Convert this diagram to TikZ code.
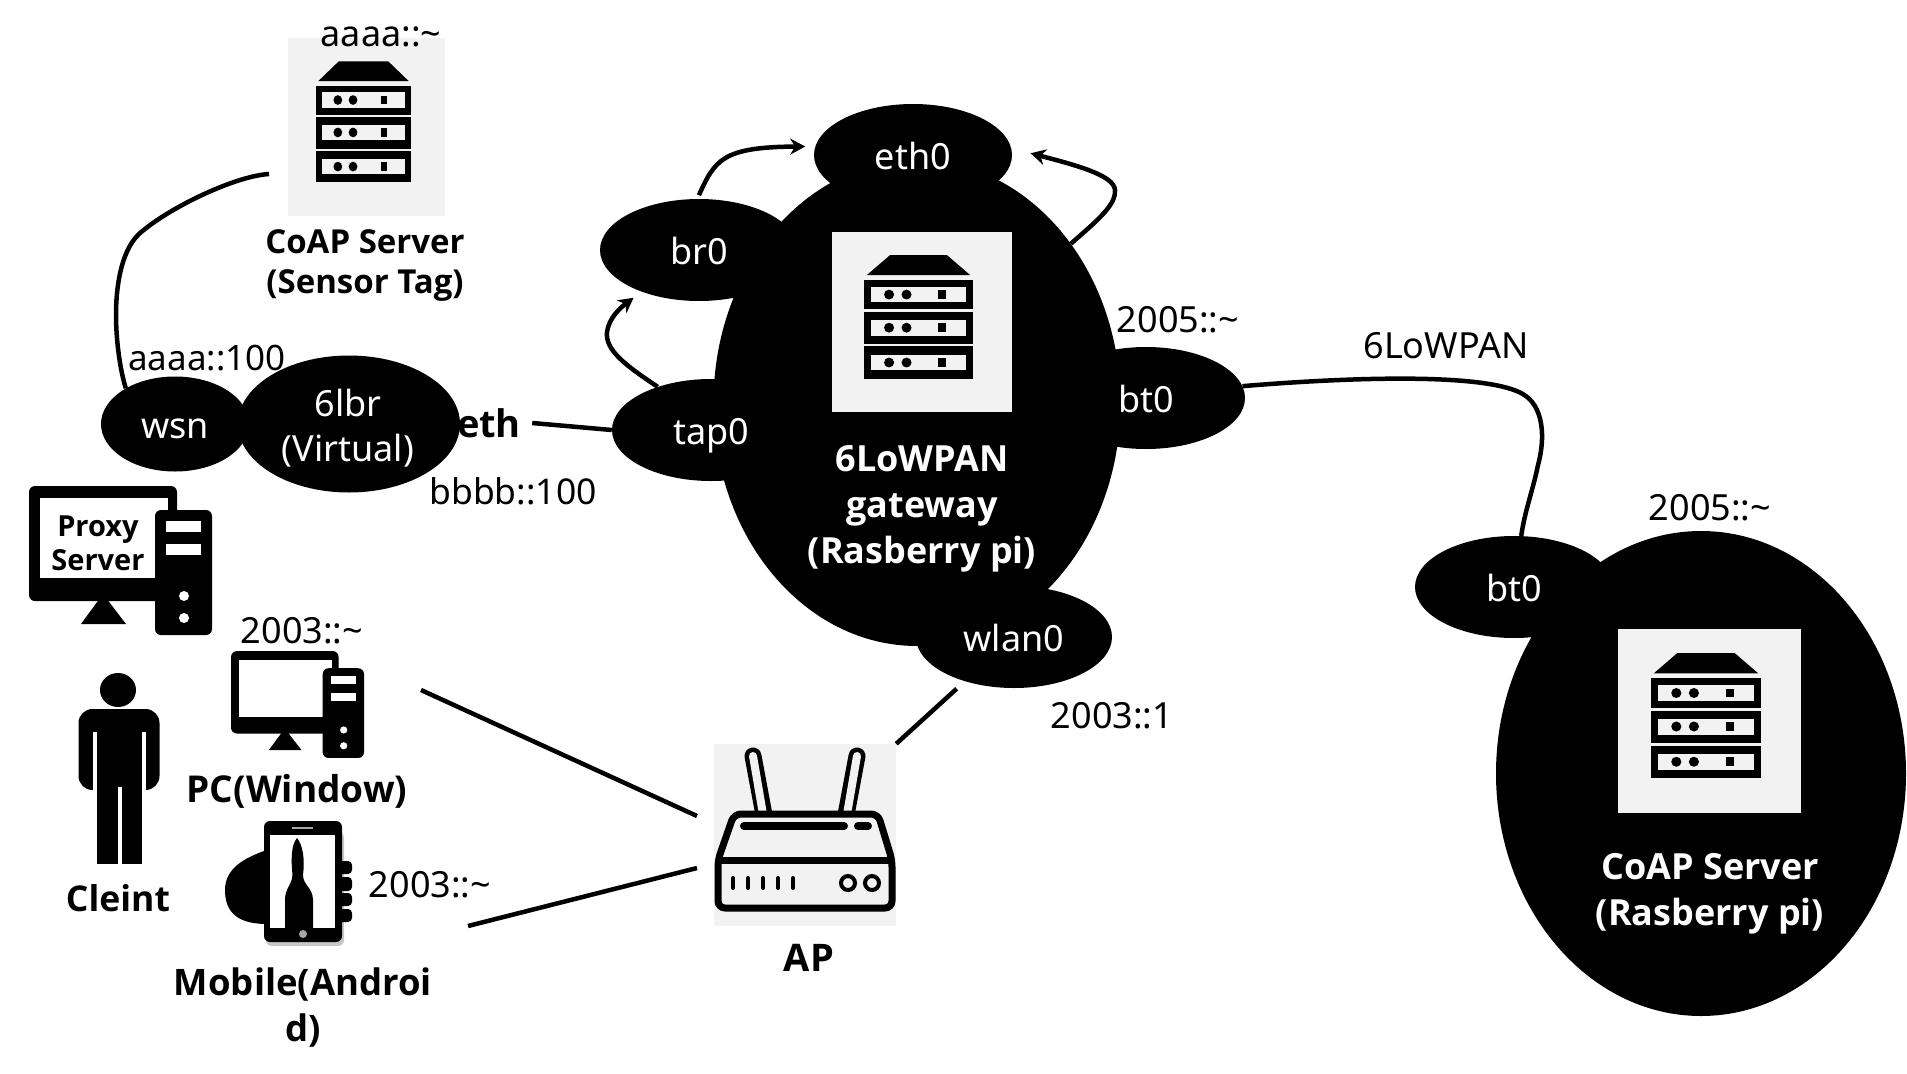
\documentclass[tikz,border=0pt]{standalone}
\usepackage{fontspec}
\setmainfont{Noto Sans}[BoldFont={Open Sans Bold}]
\usetikzlibrary{shapes.geometric,arrows.meta}
\definecolor{panelgray}{HTML}{F2F2F2}
\newcommand{\addrfont}{\fontsize{36}{43}\selectfont}
\newcommand{\namefont}{\fontsize{33}{40}\selectfont\bfseries}
\newcommand{\hostfont}{\fontsize{36}{46}\selectfont\bfseries}
\tikzset{
	iface/.style={ellipse,fill=black,text=white,inner sep=0pt,font=\addrfont,minimum width=198pt,minimum height=102pt,text height=28pt,text depth=0pt},
	hostbody/.style={ellipse,fill=black,inner sep=0pt},
	panel/.style={rectangle,fill=panelgray,inner sep=0pt},
	addr/.style={inner sep=0pt,font=\addrfont},
	caption/.style={inner sep=0pt,font=\namefont,align=center},
	hostcaption/.style={inner sep=0pt,font=\hostfont,text=white,align=center},
	wire/.style={line width=4.5pt},
	flow/.style={line width=4.5pt,-{Stealth[length=15pt,width=16pt]}},
	serverstack/.pic={
			\fill (-26,0) -- (26,0) -- (47.5,16.3) -- (-47.5,16.3) -- cycle;
			\foreach \ya/\yb/\ym in {20/44/32,46.4/72.3/58.8,74/100/87}{
					\fill (-50,\ya) rectangle (50,\yb);
					\fill[panelgray] (-43.5,\ym-6.4) rectangle (43.5,\ym+6.4);
					\fill (-27,\ym) ellipse [x radius=4.6,y radius=4];
					\fill (-11,\ym) ellipse [x radius=4.6,y radius=4];
					\fill (18,\ym-3.5) rectangle (25,\ym+3.5);
				}
		},
	desktop/.pic={
			\fill[rounded corners=6pt] (0,0) rectangle (148,115);
			\fill[white] (11,12) rectangle (139,92);
			\fill (52,138) -- (74,108) -- (97,138) -- cycle;
			\fill[rounded corners=6pt] (126,24) rectangle (183,149);
			\fill[white] (137,35) rectangle (172,46);
			\fill[white] (137,58) rectangle (172,69);
			\fill[white] (155,110) circle [radius=5];
			\fill[white] (155,132) circle [radius=5];
		}
}
\begin{document}
\begin{tikzpicture}[x=1pt,y=-1pt]
	\useasboundingbox (0,0) rectangle (1907,1074);
	% black bodies
	\node[hostbody,minimum width=407pt,minimum height=486pt] (gateway) at (917,403) {};
	\node[hostbody,minimum width=410pt,minimum height=485pt] (coapbody) at (1701,773.5) {};
	\node[hostbody,minimum width=222pt,minimum height=137pt] (lbr) at (349,424) {};
	\node[iface,minimum width=148pt,minimum height=95pt] (wsn) at (175,424) {wsn};
	\node[iface] (eth0) at (913,155) {eth0};
	\node[iface] (br0) at (699,250) {br0};
	\node[iface] (tap0) at (711,430) {tap0};
	\node[iface] (gwbt) at (1146,398) {bt0};
	\node[iface,minimum width=196pt] (wlan0) at (1014,637) {wlan0};
	\node[iface] (coapbt) at (1514,587) {bt0};
	% panels with the icons
	\node[panel,minimum width=157pt,minimum height=178pt] (sensorbox) at (366.5,127) {};
	\node[panel,minimum width=180pt,minimum height=180pt] (gatewaybox) at (922,322) {};
	\node[panel,minimum width=183pt,minimum height=184pt] (coapbox) at (1709.5,721) {};
	\node[panel,minimum width=182pt,minimum height=182pt] (ap) at (805,835) {};
	\pic[xscale=.95,yscale=1.21] at (363.5,61.3) {serverstack};
	\pic[xscale=1.09,yscale=1.236] at (918.5,255) {serverstack};
	\pic[xscale=1.1,yscale=1.25] at (1706,653) {serverstack};
	\pic at (29,486) {desktop};
	\pic[xscale=.727,yscale=.718] at (231,651) {desktop};
	% client
	\fill (118,690) ellipse [x radius=18,y radius=17];
	\fill[rounded corners=14pt] (78.5,790) -- (78.5,709) -- (159.5,709) -- (159.5,790) -- cycle;
	\fill (97,775) rectangle (141.5,864);
	\fill[white] (93,732) rectangle (97,792);
	\fill[white] (141.5,732) rectangle (146,792);
	\fill[white] (117.5,787) rectangle (121.7,864);
	% mobile
	\fill[gray!45,rounded corners=6pt] (266,832) rectangle (344,946);
	\fill (264,851) .. controls (245,858) and (225,868) .. (225,890) .. controls (225,910) and (235,924) .. (267,924) -- cycle;
	\foreach \ya/\yb in {861/874,877/891,893/906,909/922}{
			\fill[rounded corners=4pt] (335,\ya) rectangle (352,\yb);
		}
	\fill[rounded corners=6pt] (264,821) rectangle (342,942);
	\fill[white] (270,835) rectangle (334.5,928);
	\fill[gray!70] (292,827) rectangle (313,829);
	\fill[gray!70] (303,934) circle [radius=4];
	\fill (297,838) .. controls (291,845) and (291,860) .. (292.5,875) .. controls (292,885) and (285,888) .. (285,900) -- (285,928) -- (313,928) -- (313,900) .. controls (313,888) and (303,885) .. (303,875) .. controls (305,860) and (303,845) .. (297,838) -- cycle;
	% router
	\draw[line width=17pt,line cap=round] (764,815) -- (753,756);
	\draw[line width=17pt,line cap=round] (846,815) -- (857,756);
	\draw[line width=8pt,line cap=round,panelgray] (764,820) -- (753,756);
	\draw[line width=8pt,line cap=round,panelgray] (846,820) -- (857,756);
	\draw[line width=7pt,fill=panelgray,rounded corners=7pt] (734,814) -- (878,814) -- (892,860) -- (892,908) -- (718,908) -- (718,860) -- cycle;
	\draw[line width=7pt] (718,860) -- (892,860);
	\draw[line width=8pt,line cap=round] (744,826) -- (844,826);
	\draw[line width=8pt,line cap=round] (858,826) -- (868,826);
	\foreach \xa in {733,748,763,778,793}{
			\draw[line width=4pt,line cap=round] (\xa,878) -- (\xa,888);
		}
	\draw[line width=4pt] (848,883) circle [radius=7];
	\draw[line width=4pt] (872,883) circle [radius=7];
	% link ends that stop short of the icons
	\coordinate (sensorlink) at (269,174);
	\coordinate (pclink) at (421,690);
	\coordinate (apupper) at (697,816);
	\coordinate (mobilelink) at (468,926);
	\coordinate (aplower) at (697,868);
	% labels
	\node[addr,text=white,align=center] (lbrname) at (348,428) {6lbr\\[2pt](Virtual)};
	\node[addr] (sensoraddr) at (381,37) {aaaa::\textasciitilde};
	\node[caption] (sensorname) at (365,266) {CoAP Server\\(Sensor Tag)};
	\node[addr,font=\fontsize{35}{42}\selectfont] (wsnaddr) at (207,358) {aaaa::100};
	\node[addr,font=\fontsize{35.5}{42}\selectfont] (ethaddr) at (513,491) {bbbb::100};
	\node[inner sep=0pt,font=\fontsize{38}{44}\selectfont\bfseries,minimum width=86pt] (eth) at (489,423) {eth};
	\node[addr] (gwaddr) at (1178,320) {2005::\textasciitilde};
	\node[addr] (wlanaddr) at (1112,716) {2003::1};
	\node[addr] (linkname) at (1446,346) {6LoWPAN};
	\node[addr] (coapaddr) at (1710,508) {2005::\textasciitilde};
	\node[addr] (pcaddr) at (302,631) {2003::\textasciitilde};
	\node[addr] (mobileaddr) at (430,885) {2003::\textasciitilde};
	\node[hostcaption] (gatewayname) at (922,509) {6LoWPAN\\gateway\\(Rasberry pi)};
	\node[hostcaption] (coapname) at (1710,894) {CoAP Server\\(Rasberry pi)};
	\node[inner sep=0pt,align=center,font=\fontsize{29}{34}\selectfont\bfseries] (proxyname) at (98,543) {Proxy\\Server};
	\node[caption,font=\fontsize{37}{44}\selectfont\bfseries] (pcname) at (297,791) {PC(Window)};
	\node[caption,font=\fontsize{35.5}{42}\selectfont\bfseries] (clientname) at (118,898) {Cleint};
	\node[caption,font=\fontsize{36.5}{46}\selectfont\bfseries] (mobilename) at (303,1008) {Mobile(Androi\\d)};
	\node[caption,font=\fontsize{38}{44}\selectfont\bfseries] (apname) at (809,958) {AP};
	% links
	\draw[wire] (sensorlink) .. controls (235,176) and (168,208) .. (139,234) .. controls (120,252) and (116,290) .. (116,315) .. controls (116,340) and (120,370) .. (wsn.144);
	\draw[wire] (eth.east) -- (tap0.west);
	\draw[wire] (pclink) -- (apupper);
	\draw[wire] (mobilelink) -- (aplower);
	\draw[wire,shorten <=11pt] (wlan0.222) -- (ap.north east);
	\draw[wire] (gwbt.7) .. controls (1340,378) and (1480,372) .. (1521,393) .. controls (1545,405) and (1545,440) .. (1538,465) .. controls (1533,490) and (1525,510) .. (coapbt.82);
	\draw[flow,shorten <=4pt,shorten >=10pt] (br0.92) .. controls (715,160) and (722,147) .. (eth0.175);
	\draw[flow,shorten >=10pt] (tap0.141) .. controls (625,365) and (605,350) .. (607,332) .. controls (609,318) and (620,308) .. (br0.216);
	\draw[flow,shorten >=20pt] (gateway.46) .. controls (1098,220) and (1116,205) .. (1115,190) .. controls (1114,175) and (1075,165) .. (eth0.4);
\end{tikzpicture}
\end{document}
